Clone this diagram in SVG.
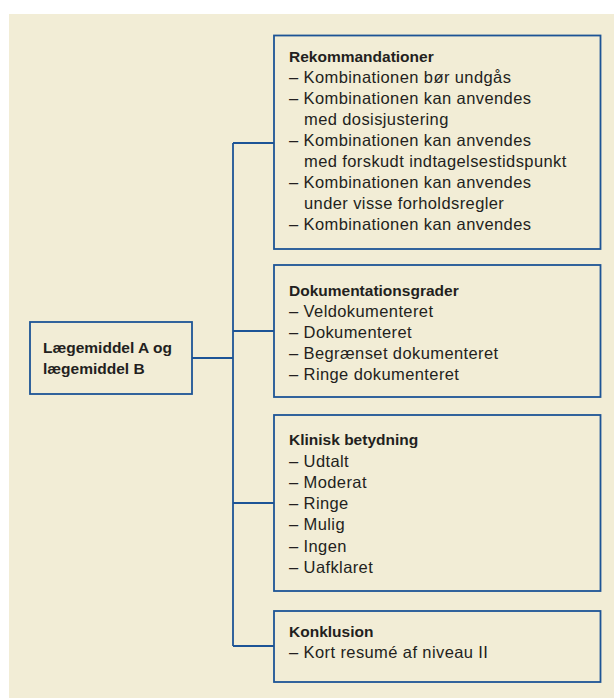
<svg xmlns="http://www.w3.org/2000/svg" width="614" height="699" viewBox="0 0 614 699">
<style>
.box{fill:#f2edd6;stroke:#1d5496;stroke-width:1.8}
.con{fill:none;stroke:#1d5496;stroke-width:1.8}
text{font-family:"Liberation Sans",Arial,sans-serif;fill:#231f20}
.t{font-size:15.5px;font-weight:bold}
.i{font-size:16.5px;letter-spacing:0.4px}
.h{font-size:15.5px;font-weight:bold}
</style>
<rect x="9" y="14" width="605" height="684" fill="#f2edd6"/>
<g id="connectors">
<polyline class="con" points="233,143 233,646"/>
<line class="con" x1="192" y1="358" x2="233" y2="358"/>
<line class="con" x1="233" y1="143" x2="274" y2="143"/>
<line class="con" x1="233" y1="331" x2="274" y2="331"/>
<line class="con" x1="233" y1="503" x2="274" y2="503"/>
<line class="con" x1="233" y1="646" x2="274" y2="646"/>
</g>
<g id="root">
<rect class="box" x="30" y="322" width="162" height="72"/>
<text class="h" x="43" y="353">Lægemiddel A og</text>
<text class="h" x="43" y="374">lægemiddel B</text>
</g>
<g id="rekommandationer">
<rect class="box" x="274" y="35.5" width="326.5" height="213.5"/>
<text class="t" x="289" y="62">Rekommandationer</text>
<text class="i" x="289" y="83">– Kombinationen bør undgås</text>
<text class="i" x="289" y="104">– Kombinationen kan anvendes</text>
<text class="i" x="304" y="125">med dosisjustering</text>
<text class="i" x="289" y="146">– Kombinationen kan anvendes</text>
<text class="i" x="304" y="167">med forskudt indtagelsestidspunkt</text>
<text class="i" x="289" y="188">– Kombinationen kan anvendes</text>
<text class="i" x="304" y="209">under visse forholdsregler</text>
<text class="i" x="289" y="230">– Kombinationen kan anvendes</text>
</g>
<g id="dokumentationsgrader">
<rect class="box" x="274" y="265" width="326.5" height="132"/>
<text class="t" x="289" y="296">Dokumentationsgrader</text>
<text class="i" x="289" y="317">– Veldokumenteret</text>
<text class="i" x="289" y="338">– Dokumenteret</text>
<text class="i" x="289" y="359">– Begrænset dokumenteret</text>
<text class="i" x="289" y="380">– Ringe dokumenteret</text>
</g>
<g id="klinisk">
<rect class="box" x="274" y="415" width="326.5" height="176"/>
<text class="t" x="289" y="445">Klinisk betydning</text>
<text class="i" x="289" y="466.5">– Udtalt</text>
<text class="i" x="289" y="487.5">– Moderat</text>
<text class="i" x="289" y="508.5">– Ringe</text>
<text class="i" x="289" y="530">– Mulig</text>
<text class="i" x="289" y="551.5">– Ingen</text>
<text class="i" x="289" y="572.5">– Uafklaret</text>
</g>
<g id="konklusion">
<rect class="box" x="274" y="611" width="326.5" height="71"/>
<text class="t" x="289" y="637">Konklusion</text>
<text class="i" x="289" y="657.5">– Kort resumé af niveau II</text>
</g>
</svg>
